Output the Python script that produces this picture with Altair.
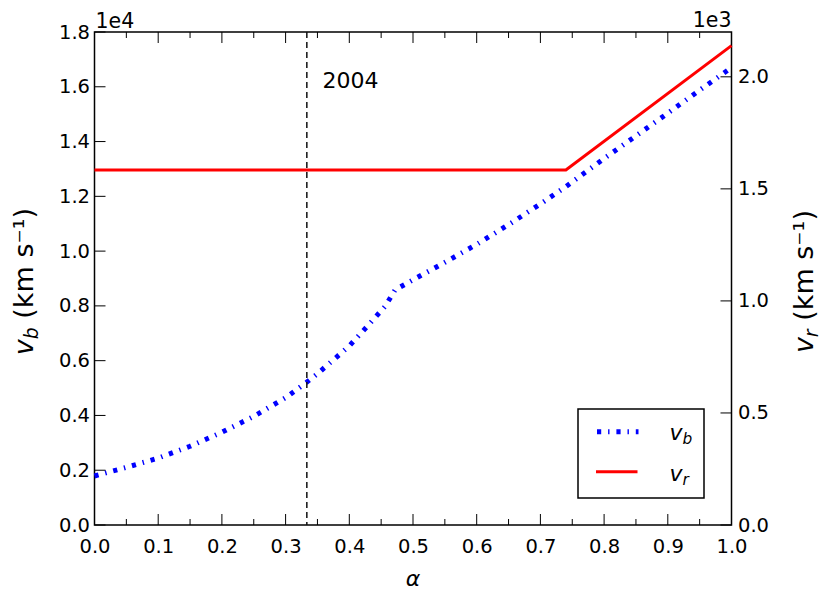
import altair as alt
import pandas as pd

# ---------------- data ----------------
alpha_b = [0.0, 0.05, 0.1, 0.15, 0.2, 0.25, 0.3, 0.333, 0.35, 0.4, 0.43, 0.456,
           0.472, 0.5, 0.55, 0.6, 0.65, 0.7, 0.74, 0.8, 0.85, 0.9, 0.95, 1.0]
v_b = [1790, 2105, 2443, 2874, 3387, 3967, 4648, 5210, 5523, 6537, 7302, 7977,
       8586, 8951, 9589, 10247, 10965, 11720, 12355, 13382, 14207, 15037, 15877, 16700]

alpha_r = [0.0, 0.74, 1.0]
v_r = [1584, 1584, 2139]

alpha_mark = [1 / 3]
note_label = ["2004"]
note_alpha = [0.358]
note_v = [15950]

x_major = [0.0, 0.1, 0.2, 0.3, 0.4, 0.5, 0.6, 0.7, 0.8, 0.9, 1.0]
x_minor = [0.05, 0.15, 0.25, 0.35, 0.45, 0.55, 0.65, 0.75, 0.85, 0.95]
yl_ticks = [0, 2000, 4000, 6000, 8000, 10000, 12000, 14000, 16000, 18000]
yr_ticks = [0, 500, 1000, 1500, 2000]

# ---------------- styling ----------------
FONT = "DejaVu Sans"
W, H = 637, 493
TICK_FS = 19.5
TITLE_FS = 27
LEG_FS = 22
BLUE_DASH = [4.2, 6.9, 1.4, 6.9]

df_b = pd.DataFrame({"alpha": alpha_b, "v_b": v_b})
df_r = pd.DataFrame({"alpha": alpha_r, "v_r": v_r})
df_mark = pd.DataFrame({"alpha": alpha_mark})
df_note = pd.DataFrame({"alpha": note_alpha, "v_b": note_v, "label": note_label})
df_xmaj = pd.DataFrame({"alpha": x_major})
df_xmin = pd.DataFrame({"alpha": x_minor})
df_yl = pd.DataFrame({"v_b": yl_ticks})
df_yr = pd.DataFrame({"v_r": yr_ticks})
one = pd.DataFrame({"k": [0]})

xs = alt.Scale(domain=[0, 1], nice=False, zero=False)
yls = alt.Scale(domain=[0, 18000], nice=False, zero=False)
yrs = alt.Scale(domain=[0, 2200], nice=False, zero=False)

common_axis = dict(tickSize=0, ticks=False, domain=False, grid=False, title=None,
                   labelFontSize=TICK_FS, labelFont=FONT, labelColor="black",
                   labelFlush=False, labelOverlap=False)

x_axis = alt.Axis(values=x_major, format=".1f", labelPadding=12, orient="bottom",
                  **common_axis)
yl_axis = alt.Axis(values=yl_ticks, labelExpr="format(datum.value / 10000, '.1f')",
                   labelPadding=5, orient="left", **common_axis)
yr_axis = alt.Axis(values=yr_ticks, labelExpr="format(datum.value / 1000, '.1f')",
                   labelPadding=6, orient="right", **common_axis)

# identical axis definitions on every layer so that they merge cleanly
X = alt.X("alpha:Q", scale=xs, axis=x_axis)
YL = alt.Y("v_b:Q", scale=yls, axis=yl_axis)
YR = alt.Y("v_r:Q", scale=yrs, axis=yr_axis)

# ---------------- left-axis group ----------------
vb_line = alt.Chart(df_b).mark_line(
    color="#0000ff", strokeWidth=5, strokeDash=BLUE_DASH, strokeCap="butt"
).encode(x=X, y=YL)

vline = alt.Chart(df_mark).mark_rule(
    color="#111111", strokeWidth=1.5, strokeDash=[6, 4]
).encode(x=X)

note = alt.Chart(df_note).mark_text(
    align="left", baseline="alphabetic", fontSize=22, font=FONT, color="black"
).encode(x=X, y=YL, text="label:N")

ticks_bottom_major = alt.Chart(df_xmaj).mark_rule(color="black", strokeWidth=1).encode(
    x=X, y=alt.value(H), y2=alt.value(H - 11))
ticks_top_major = alt.Chart(df_xmaj).mark_rule(color="black", strokeWidth=1).encode(
    x=X, y=alt.value(0), y2=alt.value(11))
ticks_bottom_minor = alt.Chart(df_xmin).mark_rule(color="black", strokeWidth=1).encode(
    x=X, y=alt.value(H), y2=alt.value(H - 6))
ticks_top_minor = alt.Chart(df_xmin).mark_rule(color="black", strokeWidth=1).encode(
    x=X, y=alt.value(0), y2=alt.value(6))
ticks_left = alt.Chart(df_yl).mark_rule(color="black", strokeWidth=1).encode(
    y=YL, x=alt.value(0), x2=alt.value(11))


def txt(s, x, y, size, italic=False, angle=0, align="left", dx=0, dy=0):
    kw = dict(align=align, baseline="alphabetic", fontSize=size, font=FONT,
              color="black", dx=dx, dy=dy)
    if italic:
        kw["fontStyle"] = "italic"
    if angle:
        kw["angle"] = angle
    return alt.Chart(one).mark_text(text=s, **kw).encode(
        x=alt.value(x), y=alt.value(y))


# offset texts
off_left = txt("1e4", 1, -4, 20.5)
off_right = txt("1e3", W, -5, 20.5, align="right")

# x title
x_title = txt("α", W / 2, 554, 22, italic=True, align="center")

# rotated y titles (v_b / v_r with subscripts)
rest = "(km s⁻¹)"
w_space = 0.318
w_rest = 4.107
F = TITLE_FS


def ytitle(sub, sub_w, xb):
    total = (0.592 + 0.7 * sub_w + w_space + w_rest) * F
    y0 = H / 2 + total / 2 + 3
    return [
        txt("v", xb, y0, F, italic=True, angle=270),
        txt(sub, xb, y0, 0.7 * F, italic=True, angle=270, dx=0.592 * F, dy=0.19 * F),
        txt(rest, xb, y0, F, angle=270, dx=(0.592 + 0.7 * sub_w + w_space) * F),
    ]


yl_title = ytitle("b", 0.635, -62)
yr_title = ytitle("r", 0.411, W + 81)

# legend
leg_box = alt.Chart(one).mark_rect(fill="white", stroke="black", strokeWidth=1.5).encode(
    x=alt.value(483.5), x2=alt.value(609.5), y=alt.value(377), y2=alt.value(466))
leg_blue = alt.Chart(one).mark_rule(color="#0000ff", strokeWidth=5, strokeDash=BLUE_DASH,
                                    strokeCap="butt").encode(
    x=alt.value(502.5), x2=alt.value(544), y=alt.value(399.7))
leg_red = alt.Chart(one).mark_rule(color="#ff0000", strokeWidth=3).encode(
    x=alt.value(501.5), x2=alt.value(543), y=alt.value(439.7))
LF = LEG_FS
leg_texts = [
    txt("v", 575, 408, LF, italic=True),
    txt("b", 575 + 0.592 * LF, 408, 0.7 * LF, italic=True, dy=0.19 * LF),
    txt("v", 575, 449, LF, italic=True),
    txt("r", 575 + 0.592 * LF, 449, 0.7 * LF, italic=True, dy=0.19 * LF),
]

left_group = alt.layer(
    vb_line, vline, note,
    ticks_bottom_major, ticks_top_major, ticks_bottom_minor, ticks_top_minor, ticks_left,
)

# ---------------- right-axis group ----------------
vr_line = alt.Chart(df_r).mark_line(color="#ff0000", strokeWidth=3).encode(x=X, y=YR)
ticks_right = alt.Chart(df_yr).mark_rule(color="black", strokeWidth=1).encode(
    y=YR, x=alt.value(W - 11), x2=alt.value(W))

right_group = alt.layer(vr_line, ticks_right)

overlay = alt.layer(
    off_left, off_right, x_title, *yl_title, *yr_title,
    leg_box, leg_blue, leg_red, *leg_texts,
)

chart = alt.layer(left_group, right_group, overlay).resolve_scale(
    y="independent"
).properties(
    width=W, height=H,
    padding={"left": 86.5, "top": 24, "right": 91, "bottom": 76},
    autosize=alt.AutoSizeParams(type="none"),
    background="white",
).configure_view(stroke="black", strokeWidth=1.5)

chart.save("out.html", embed_options={"renderer": "svg", "actions": False})
